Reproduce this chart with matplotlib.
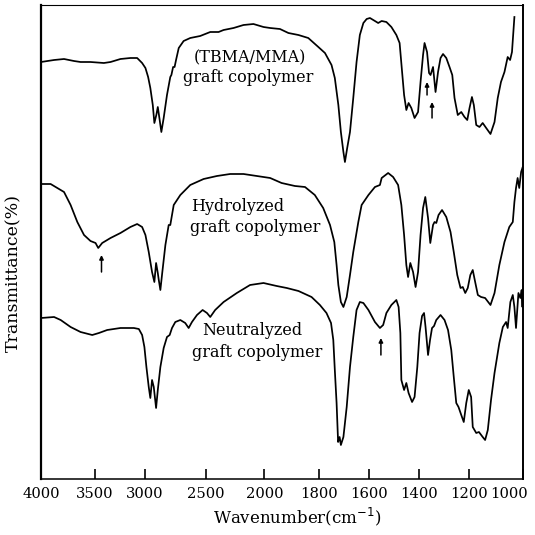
import numpy as np
import matplotlib
matplotlib.use("Agg")
import matplotlib.pyplot as plt
from matplotlib.transforms import ScaledTranslation

# ---------------- data ----------------
# axis tick wavenumbers and their relative positions along the chart paper
tick_wn = [1000, 1200, 1400, 1600, 1800, 2000, 2500, 3000, 3500, 4000]
tick_pos = [0.0, 53.9, 104.0, 154.0, 204.7, 259.3, 318.0, 379.4, 429.2, 483.4]
tick_labels = ["1000", "1200", "1400", "1600", "1800", "2000", "2500", "3000", "3500", "4000"]

# (TBMA/MMA) graft copolymer
wn_top = [4000, 3879, 3787, 3695, 3634, 3542, 3411, 3344, 3244, 3144, 3076, 3026, 2994, 2972,
          2954, 2934, 2921, 2905, 2893, 2880, 2864, 2845, 2818, 2791, 2782, 2768, 2756, 2744,
          2722, 2682, 2628, 2547, 2463, 2392, 2349, 2264, 2179, 2094, 2008, 1979, 1943, 1912,
          1875, 1839, 1802, 1776, 1750, 1737, 1723, 1713, 1703, 1697, 1688, 1677, 1664, 1651,
          1638, 1624, 1611, 1598, 1578, 1565, 1551, 1532, 1512, 1492, 1479, 1469, 1461, 1452,
          1443, 1432, 1419, 1405, 1395, 1385, 1379, 1369, 1361, 1355, 1345, 1335, 1325, 1315,
          1305, 1292, 1279, 1268, 1259, 1246, 1232, 1219, 1208, 1199, 1190, 1183, 1174, 1162,
          1150, 1137, 1121, 1106, 1094, 1082, 1069, 1057, 1048, 1041, 1032]
t_top = [417, 419, 420, 418, 417, 417, 416, 417, 420, 421, 421, 416, 411, 402,
         391, 374, 356, 364, 372, 361, 347, 361, 384, 402, 404, 412, 412, 419,
         431, 438, 441, 443, 447, 447, 449, 451, 454, 455, 452, 451, 450, 446,
         444, 441, 432, 426, 414, 401, 374, 347, 327, 317, 331, 347, 381, 417,
         444, 456, 460, 461, 458, 456, 458, 457, 452, 444, 436, 407, 384, 369,
         376, 371, 361, 367, 397, 424, 436, 427, 406, 404, 412, 387, 407, 421,
         425, 421, 412, 404, 381, 364, 367, 362, 359, 371, 382, 374, 354, 352,
         356, 351, 345, 357, 381, 397, 407, 422, 419, 427, 462]

# Hydrolyzed graft copolymer
wn_mid = [4000, 3911, 3849, 3787, 3726, 3664, 3602, 3542, 3495, 3468, 3428, 3344, 3244, 3144,
          3076, 3026, 2994, 2967, 2940, 2921, 2907, 2893, 2885, 2872, 2856, 2831, 2804, 2791,
          2777, 2763, 2709, 2628, 2519, 2406, 2293, 2179, 2065, 1979, 1937, 1888, 1851, 1815,
          1783, 1756, 1739, 1730, 1723, 1713, 1703, 1690, 1677, 1664, 1644, 1631, 1604, 1578,
          1558, 1551, 1525, 1505, 1485, 1472, 1461, 1452, 1445, 1436, 1425, 1415, 1405, 1395,
          1385, 1376, 1365, 1356, 1345, 1339, 1332, 1323, 1309, 1292, 1275, 1262, 1248, 1235,
          1226, 1216, 1206, 1196, 1187, 1178, 1168, 1156, 1141, 1121, 1106, 1088, 1069, 1051,
          1038, 1032, 1026, 1020, 1014, 1007, 1001, 1000]
t_mid = [295, 295, 291, 287, 274, 257, 244, 238, 236, 231, 236, 241, 246, 252,
         255, 252, 244, 227, 207, 197, 216, 206, 199, 189, 207, 234, 254, 254,
         264, 274, 284, 294, 300, 303, 305, 305, 303, 301, 296, 293, 292, 284,
         271, 254, 237, 214, 194, 177, 172, 182, 204, 227, 257, 274, 284, 292,
         294, 301, 306, 302, 294, 274, 244, 214, 202, 216, 207, 192, 207, 244,
         271, 282, 261, 236, 254, 257, 256, 264, 269, 262, 247, 227, 204, 191,
         192, 186, 191, 204, 209, 197, 184, 182, 181, 174, 186, 214, 237, 252,
         257, 277, 291, 301, 291, 307, 312, 311]

# Neutralyzed graft copolymer
wn_bot = [4000, 3879, 3818, 3726, 3634, 3526, 3461, 3378, 3244, 3109, 3059, 3026, 3003, 2986,
          2967, 2954, 2940, 2926, 2907, 2893, 2872, 2845, 2818, 2796, 2777, 2750, 2709, 2669,
          2641, 2614, 2573, 2527, 2491, 2463, 2421, 2349, 2236, 2123, 2008, 1955, 1918, 1875,
          1827, 1796, 1770, 1752, 1743, 1737, 1730, 1724, 1718, 1713, 1703, 1690, 1677, 1664,
          1651, 1638, 1624, 1604, 1578, 1558, 1545, 1532, 1512, 1492, 1483, 1476, 1472, 1461,
          1452, 1443, 1429, 1419, 1408, 1399, 1389, 1381, 1375, 1365, 1357, 1349, 1341, 1332,
          1315, 1299, 1285, 1272, 1262, 1252, 1243, 1232, 1222, 1212, 1202, 1193, 1187, 1174,
          1164, 1150, 1141, 1131, 1119, 1106, 1088, 1075, 1063, 1057, 1047, 1038, 1032, 1026,
          1017, 1010, 1005, 1002, 1000]
t_bot = [161, 162, 159, 152, 147, 144, 146, 149, 151, 151, 150, 144, 132, 112,
         92, 81, 99, 92, 71, 89, 112, 131, 142, 144, 151, 157, 159, 156,
         151, 157, 164, 169, 166, 162, 169, 177, 186, 194, 196, 193, 191, 188,
         182, 174, 166, 156, 139, 109, 76, 37, 42, 34, 42, 72, 112, 142,
         169, 177, 176, 169, 157, 151, 154, 166, 174, 179, 172, 146, 99, 89,
         96, 86, 77, 82, 112, 146, 163, 166, 152, 124, 139, 151, 153, 159,
         164, 159, 149, 129, 102, 76, 72, 64, 57, 76, 89, 82, 52, 46,
         47, 42, 39, 49, 79, 106, 136, 152, 157, 151, 177, 184, 172, 151,
         186, 181, 189, 172, 190]

# arrows marking bands: (wavenumber, tail level, tip level)
arrow_wn = [1369, 1349, 3435, 1554]
arrow_tail = [384, 361, 207, 124]
arrow_tip = [397, 377, 224, 141]

# ---------------- scale ----------------
def fwd(w):
    return np.interp(w, tick_wn, tick_pos)

def inv(u):
    return np.interp(u, tick_pos, tick_wn)

plt.rcParams["font.family"] = ["DejaVu Serif"]

fig = plt.figure(figsize=(5.35, 5.35), dpi=100)
ax = fig.add_axes([41 / 535, 1 - 479 / 535, (523 - 41) / 535, (479 - 5) / 535])
ax.set_xscale("function", functions=(fwd, inv))

lw = 1.25
ax.plot(wn_top, t_top, color="black", lw=lw, solid_joinstyle="round")
ax.plot(wn_mid, t_mid, color="black", lw=lw, solid_joinstyle="round")
ax.plot(wn_bot, t_bot, color="black", lw=lw, solid_joinstyle="round")

for w, a, b in zip(arrow_wn, arrow_tail, arrow_tip):
    ax.annotate("", xy=(w, b), xytext=(w, a),
                arrowprops=dict(arrowstyle="-|>", color="black", lw=1.1,
                                mutation_scale=6, shrinkA=0, shrinkB=0))

ax.set_xlim(4000, 1000)
ax.set_ylim(0, 474)

ax.set_xticks(tick_wn)
ax.set_xticklabels(tick_labels)
ax.minorticks_off()
ax.tick_params(axis="x", direction="in", length=7.5, width=1.2, labelsize=10.6, pad=6)
# keep the last label (1000) inside the figure, as in the reference
for t in ax.xaxis.get_major_ticks():
    if abs(t.get_loc() - 1000) < 1:
        t.label1.set_horizontalalignment("right")
        t.label1.set_transform(t.label1.get_transform()
                               + ScaledTranslation(3.5 / 72, 0, fig.dpi_scale_trans))
ax.set_yticks([])

for side, w in zip(["left", "right", "bottom", "top"], [1.6, 1.4, 1.1, 0.8]):
    ax.spines[side].set_linewidth(w)

ax.set_xlabel("Wavenumber(cm$^{-1}$)", fontsize=12)
ax.xaxis.set_label_coords(0.531, -0.057)
ax.set_ylabel("Transmittance(%)", fontsize=12.5)
ax.yaxis.set_label_coords(-0.039, 0.435)

fs = 11.5
ax.text(0.434, 0.888, "(TBMA/MMA)", transform=ax.transAxes, ha="center", va="center", fontsize=fs)
ax.text(0.430, 0.848, "graft copolymer", transform=ax.transAxes, ha="center", va="center", fontsize=fs)
ax.text(0.409, 0.574, "Hydrolyzed", transform=ax.transAxes, ha="center", va="center", fontsize=fs)
ax.text(0.444, 0.530, "graft copolymer", transform=ax.transAxes, ha="center", va="center", fontsize=fs)
ax.text(0.438, 0.314, "Neutralyzed", transform=ax.transAxes, ha="center", va="center", fontsize=fs)
ax.text(0.448, 0.266, "graft copolymer", transform=ax.transAxes, ha="center", va="center", fontsize=fs)

fig.savefig("out.png", dpi=100)
